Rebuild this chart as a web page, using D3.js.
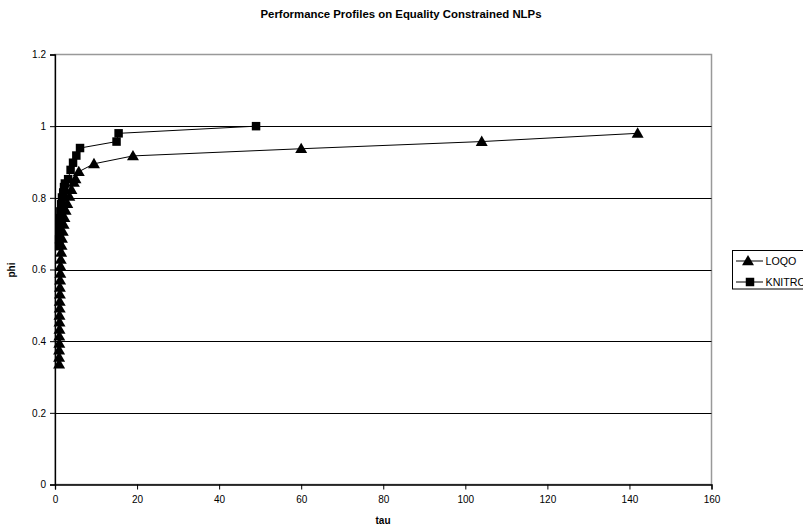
<!DOCTYPE html>
<html><head><meta charset="utf-8">
<script src="https://cdn.jsdelivr.net/npm/d3@7"></script>
<style>body{margin:0;background:#fff;} svg{display:block;font-family:"Liberation Sans",Arial,sans-serif;}</style>
</head><body><svg id="c" width="803" height="531"></svg>
<script>
const title = "Performance Profiles on Equality Constrained NLPs";
const xLabel = "tau", yLabel = "phi";
const xTicks = [0,20,40,60,80,100,120,140,160];
const yTicks = [0,0.2,0.4,0.6,0.8,1,1.2];
const loqoTau = [1.0,1.0,1.0,1.05,1.05,1.1,1.1,1.1,1.15,1.15,1.2,1.2,1.25,1.3,1.35,1.4,1.5,1.6,1.7,1.9,2.1,2.3,2.6,3.0,3.5,4.0,4.6,5.0,5.8,9.5,19,60,104,142];
const loqoPhi = [0.336,0.355,0.375,0.394,0.414,0.433,0.453,0.472,0.492,0.511,0.531,0.550,0.570,0.589,0.609,0.628,0.648,0.667,0.687,0.706,0.726,0.745,0.765,0.784,0.804,0.823,0.843,0.853,0.873,0.895,0.917,0.937,0.957,0.980];
const knitroTau = [1.0,1.0,1.05,1.1,1.2,1.3,1.5,1.7,2.0,2.2,2.4,3.2,3.8,4.4,5.2,6.1,15,15.5,49];
const knitroPhi = [0.665,0.684,0.704,0.723,0.743,0.762,0.782,0.801,0.815,0.830,0.840,0.852,0.878,0.898,0.918,0.939,0.957,0.980,1.0];
const seriesNames = ["LOQO","KNITRO"];

const svg = d3.select("#c");
const x = d3.scaleLinear().domain([0,160]).range([55,711.5]);
const y = d3.scaleLinear().domain([0,1.2]).range([484.5,54.5]);

// plot border
svg.append("rect").attr("x",55).attr("y",54.5).attr("width",656.5).attr("height",430)
  .attr("fill","none").attr("stroke","#999").attr("stroke-width",1.5);
// gridlines
svg.append("g").selectAll("line").data(yTicks.filter(d=>d>0&&d<1.2)).join("line")
  .attr("x1",55).attr("x2",711.5).attr("y1",d=>Math.round(y(d))+0.5).attr("y2",d=>Math.round(y(d))+0.5)
  .attr("stroke","#000").attr("stroke-width",1);

// axes
const xa = svg.append("g").attr("transform","translate(0,484.5)")
  .call(d3.axisBottom(x).tickValues(xTicks).tickSize(5).tickPadding(6).tickFormat(d3.format("d")));
const ya = svg.append("g").attr("transform","translate(55,0)")
  .call(d3.axisLeft(y).tickValues(yTicks).tickSize(5).tickPadding(4).tickFormat(d=>String(+d.toFixed(1))));
[xa,ya].forEach(a=>{a.select(".domain").attr("stroke","#000").attr("stroke-width",1.3);
  a.selectAll(".tick line").attr("stroke","#000");
  a.selectAll("text").attr("font-size","10px").attr("fill","#000").attr("font-family","Liberation Sans, Arial, sans-serif");});

const line = d3.line().x(d=>x(d[0])).y(d=>y(d[1]));
const loqo = loqoTau.map((t,i)=>[t,loqoPhi[i]]);
const knitro = knitroTau.map((t,i)=>[t,knitroPhi[i]]);
const tri = d3.symbol().type(d3.symbolTriangle).size(62);
const sq = d3.symbol().type(d3.symbolSquare).size(72);

svg.append("path").datum(loqo).attr("d",line).attr("fill","none").attr("stroke","#000").attr("stroke-width",1);
svg.append("path").datum(knitro).attr("d",line).attr("fill","none").attr("stroke","#000").attr("stroke-width",1);
svg.append("g").selectAll("path").data(loqo).join("path").attr("d",tri)
  .attr("transform",d=>`translate(${x(d[0])},${y(d[1])+0.9})`).attr("fill","#000");
svg.append("g").selectAll("path").data(knitro).join("path").attr("d",sq)
  .attr("transform",d=>`translate(${x(d[0])},${y(d[1])})`).attr("fill","#000");

// title & labels
svg.append("text").attr("x",401).attr("y",18).attr("text-anchor","middle").attr("font-size","11.4px")
  .attr("font-weight","bold").text(title);
svg.append("text").attr("x",383).attr("y",524).attr("text-anchor","middle").attr("font-size","10px")
  .attr("font-weight","bold").text(xLabel);
svg.append("text").attr("transform","translate(15,270) rotate(-90)").attr("text-anchor","middle")
  .attr("font-size","10px").attr("font-weight","bold").text(yLabel);

// legend
const lg = svg.append("g");
lg.append("rect").attr("x",732.5).attr("y",250.5).attr("width",90).attr("height",38.5)
  .attr("fill","#fff").attr("stroke","#000").attr("stroke-width",1);
const ly = [261,282];
const syms = [tri, sq];
seriesNames.forEach((n,i)=>{
  lg.append("line").attr("x1",736).attr("x2",763).attr("y1",ly[i]).attr("y2",ly[i]).attr("stroke","#000");
  lg.append("path").attr("d",syms[i]).attr("transform",`translate(${i===0?748:750},${ly[i]+(i===0?0.9:0)})`).attr("fill","#000");
  lg.append("text").attr("x",765.5).attr("y",ly[i]+4).attr("font-size","10.7px").text(n);
});
</script></body></html>
